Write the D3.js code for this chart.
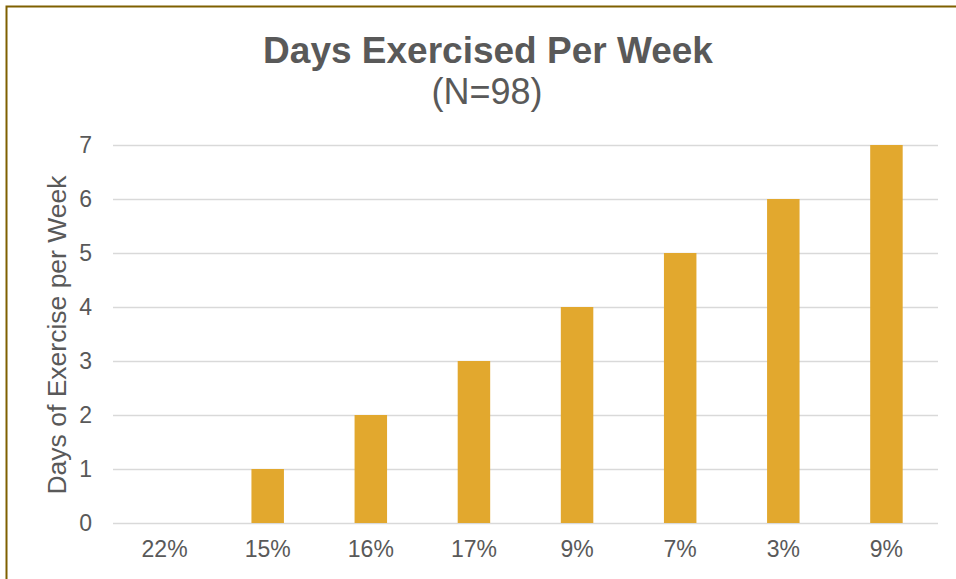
<!DOCTYPE html>
<html>
<head>
<meta charset="utf-8">
<script src="https://cdn.jsdelivr.net/npm/d3@7"></script>
<style>
  body { margin: 0; background: #fff; }
  text { font-family: "Liberation Sans", Arial, sans-serif; }
</style>
</head>
<body>
<div id="chart"></div>
<script>
// Data
const categories = ['22%', '15%', '16%', '17%', '9%', '7%', '3%', '9%']
const days = [0, 1, 2, 3, 4, 5, 6, 7]
const yTicks = [0, 1, 2, 3, 4, 5, 6, 7]

const width = 956
const height = 579
const margin = { left: 113, right: 18, top: 145, bottom: 56 }
const plotW = width - margin.left - margin.right
const plotH = height - margin.top - margin.bottom

const svg = d3.select('#chart')
  .append('svg')
  .attr('width', width)
  .attr('height', height)

// frame
svg.append('rect')
  .attr('x', 6.5)
  .attr('y', 6.5)
  .attr('width', width + 10)
  .attr('height', height + 10)
  .attr('fill', 'none')
  .attr('stroke', '#7f6000')
  .attr('stroke-width', 2)

// titles
svg.append('text')
  .attr('x', 488)
  .attr('y', 63)
  .attr('text-anchor', 'middle')
  .attr('font-size', 37)
  .attr('font-weight', 'bold')
  .attr('fill', '#595959')
  .text('Days Exercised Per Week')

svg.append('text')
  .attr('x', 487)
  .attr('y', 104)
  .attr('text-anchor', 'middle')
  .attr('font-size', 36)
  .attr('fill', '#595959')
  .text('(N=98)')

const g = svg.append('g')
  .attr('transform', `translate(${margin.left},${margin.top})`)

// scales
const x = d3.scaleBand()
  .domain(d3.range(categories.length))
  .range([0, plotW])
  .paddingInner(0.685)
  .paddingOuter(0.3425)

const y = d3.scaleLinear()
  .domain([0, 7])
  .range([plotH, 0])

// grid + y axis
const yAxisG = g.append('g')
  .call(d3.axisLeft(y)
    .tickValues(yTicks)
    .tickSize(-plotW)
    .tickPadding(21)
    .tickFormat(d3.format('d')))
yAxisG.select('.domain').remove()
yAxisG.selectAll('line').attr('stroke', '#d9d9d9').attr('stroke-width', 1.5)
yAxisG.selectAll('text')
  .attr('font-size', 23)
  .attr('fill', '#595959')
  .attr('font-family', '"Liberation Sans", Arial, sans-serif')

// bars
g.selectAll('.bar')
  .data(days)
  .join('rect')
  .attr('class', 'bar')
  .attr('x', (d, i) => x(i))
  .attr('width', x.bandwidth())
  .attr('y', d => y(d))
  .attr('height', d => plotH - y(d))
  .attr('fill', '#e2a82e')

// x axis labels
const xAxisG = g.append('g')
  .attr('transform', `translate(0,${plotH})`)
  .call(d3.axisBottom(x)
    .tickSize(0)
    .tickPadding(18)
    .tickFormat(i => categories[i]))
xAxisG.select('.domain').remove()
xAxisG.selectAll('text')
  .attr('font-size', 23)
  .attr('fill', '#595959')
  .attr('font-family', '"Liberation Sans", Arial, sans-serif')

// y axis title
svg.append('text')
  .attr('transform', `translate(66,${margin.top + plotH / 2 + 1}) rotate(-90)`)
  .attr('text-anchor', 'middle')
  .attr('font-size', 26.5)
  .attr('fill', '#595959')
  .text('Days of Exercise per Week')
</script>
</body>
</html>
